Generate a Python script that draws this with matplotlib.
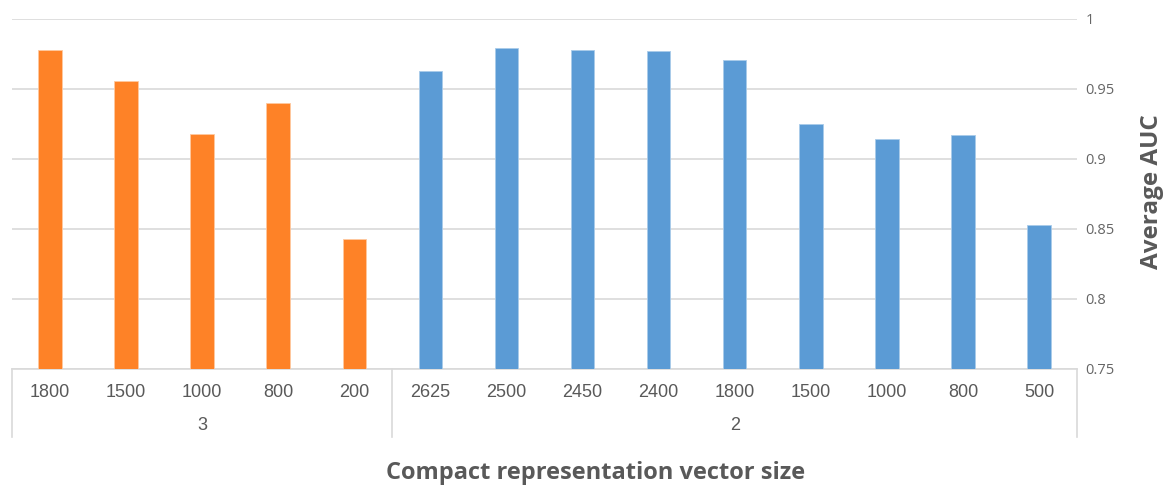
import matplotlib.pyplot as plt
from matplotlib.transforms import blended_transform_factory

# Data
sizes_3 = ["1800", "1500", "1000", "800", "200"]
auc_3 = [0.978, 0.956, 0.918, 0.940, 0.843]
sizes_2 = ["2625", "2500", "2450", "2400", "1800", "1500", "1000", "800", "500"]
auc_2 = [0.963, 0.979, 0.978, 0.977, 0.971, 0.925, 0.9145, 0.917, 0.853]
groups = ["3", "2"]
y_ticks = [0.75, 0.8, 0.85, 0.9, 0.95, 1.0]
y_tick_labels = ["0.75", "0.8", "0.85", "0.9", "0.95", "1"]

orange = "#FE8227"
blue = "#5B9BD5"
grey_txt = "#595959"
grid_c = "#D9D9D9"

fig = plt.figure(figsize=(11.69, 4.87), dpi=100)
W, H = 1169, 487
ax = fig.add_axes([12 / W, (H - 369) / H, (1077 - 12) / W, (369 - 19) / H])

n3 = len(sizes_3)
x3 = [i + 0.5 for i in range(n3)]
x2 = [n3 + i + 0.5 for i in range(len(sizes_2))]
ax.bar(x3, auc_3, width=0.31, color=orange, edgecolor="#FFC9A0", linewidth=0.6, zorder=3)
ax.bar(x2, auc_2, width=0.31, color=blue, edgecolor="#A9CBEA", linewidth=0.6, zorder=3)

ax.set_xlim(0, n3 + len(sizes_2))
ax.set_ylim(0.75, 1.0)

# y axis on the right
ax.yaxis.tick_right()
ax.set_yticks(y_ticks)
ax.set_yticklabels(y_tick_labels, family=["Open Sans", "DejaVu Sans"], fontsize=10.5, color="#666666")
ax.tick_params(axis="y", length=0, pad=6)
ax.grid(axis="y", color=grid_c, linewidth=1.2, zorder=0)
ax.set_xticks([])

for s in ["top", "left", "right"]:
    ax.spines[s].set_visible(False)
ax.spines["bottom"].set_color(grid_c)
ax.spines["bottom"].set_linewidth(1.2)

# two-level category axis
trans = blended_transform_factory(ax.transData, ax.transAxes)
lab_font = ["Liberation Sans Narrow", "Liberation Sans", "DejaVu Sans"]
for x, lab in zip(x3 + x2, sizes_3 + sizes_2):
    ax.text(x, -0.066, lab, transform=trans, ha="center", va="center",
            family=lab_font, fontsize=13, color=grey_txt)
ax.text(n3 / 2, -0.16, groups[0], transform=trans, ha="center", va="center",
        family=lab_font, fontsize=13, color=grey_txt)
ax.text(n3 + len(sizes_2) / 2, -0.16, groups[1], transform=trans, ha="center", va="center",
        family=lab_font, fontsize=13, color=grey_txt)
for xs in [0, n3, n3 + len(sizes_2)]:
    ax.plot([xs, xs], [0, -68 / 350], transform=trans, color=grid_c, linewidth=1.2, clip_on=False)

# axis titles
fig.text(596 / W, (H - 473) / H, "Compact representation vector size", ha="center", va="center",
         family=["Open Sans", "DejaVu Sans"], fontweight="bold", fontsize=17, color=grey_txt)
fig.text(1152 / W, (H - 192) / H, "Average AUC", ha="center", va="center", rotation=90,
         family=["Open Sans", "DejaVu Sans"], fontweight="bold", fontsize=17.5, color=grey_txt)

fig.savefig("out.png", dpi=100, facecolor="white")
